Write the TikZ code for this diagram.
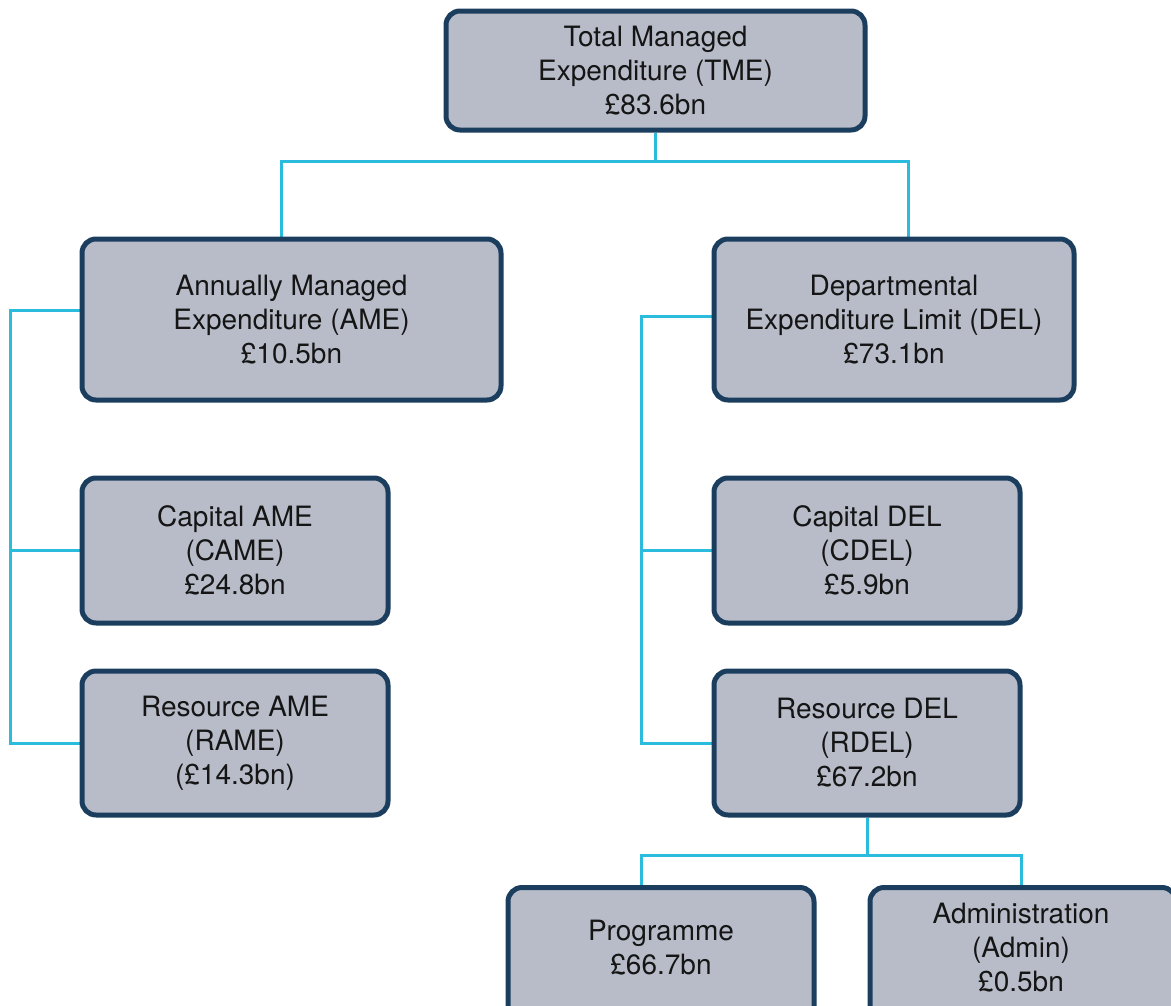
\documentclass[tikz,border=0pt]{standalone}
\usepackage{fontspec}
\setmainfont{TeX Gyre Heros}
\usetikzlibrary{backgrounds}
\definecolor{boxfill}{HTML}{B7BCC8}
\definecolor{boxline}{HTML}{1B3D5E}
\definecolor{connline}{HTML}{2BBCDD}
\definecolor{txt}{HTML}{151515}
\begin{document}
\begin{tikzpicture}[x=1pt,y=1pt,
  box/.style={draw=boxline, line width=5pt, fill=boxfill, rounded corners=14pt,
    align=center, text=txt, inner sep=0pt,
    font=\fontsize{28}{34}\selectfont},
  lbl/.style={align=center, text=txt, inner sep=0pt, font=\fontsize{28}{34}\selectfont},
  conn/.style={draw=connline, line width=3pt}]
\useasboundingbox (0,0) rectangle (1171,-1005);
\node[box, minimum width=419, minimum height=119] (tme) at (655.5,-70.5) {Total Managed\\Expenditure (TME)\\£83.6bn};
\node[box, minimum width=419, minimum height=161] (ame) at (291.5,-319.5) {Annually Managed\\Expenditure (AME)\\£10.5bn};
\node[box, minimum width=360, minimum height=161] (del) at (894,-319.5) {Departmental\\Expenditure Limit (DEL)\\£73.1bn};
\node[box, minimum width=306, minimum height=145] (came) at (235,-550.5) {Capital AME\\(CAME)\\£24.8bn};
\node[box, minimum width=306, minimum height=144] (rame) at (235,-743) {Resource AME\\(RAME)\\(£14.3bn)};
\node[box, minimum width=306, minimum height=145] (cdel) at (867,-550.5) {Capital DEL\\(CDEL)\\£5.9bn};
\node[box, minimum width=306, minimum height=144] (rdel) at (867,-743) {Resource DEL\\(RDEL)\\£67.2bn};
\node[box, minimum width=306, minimum height=150, anchor=north] (prog) at (661,-885) {};
\node[box, minimum width=306, minimum height=150, anchor=north] (adm) at (1023,-885) {};
\node[lbl] (progT) at (661,-948) {Programme\\£66.7bn};
\node[lbl] (admT) at (1021,-948) {Administration\\(Admin)\\£0.5bn};
\coordinate (tb) at (655.5,-161);
\coordinate (xa) at (281,0);
\coordinate (xd) at (908,0);
\coordinate (lb) at (10,0);
\coordinate (yl) at (0,-310);
\coordinate (rb) at (641,0);
\coordinate (yr) at (0,-316);
\coordinate (bb) at (0,-855);
\coordinate (xp) at (641,0);
\coordinate (xm) at (1021,0);
\begin{scope}[on background layer]
\draw[conn] (tme.south) -- (tb);
\draw[conn] (ame.north -| xa) |- (tb) -| (del.north -| xd);
\draw[conn] (ame.west |- yl) -| (lb |- rame.west) -- (rame.west);
\draw[conn] (lb |- came.west) -- (came.west);
\draw[conn] (del.west |- yr) -| (rb |- rdel.west) -- (rdel.west);
\draw[conn] (rb |- cdel.west) -- (cdel.west);
\draw[conn] (rdel.south) -- (rdel.south |- bb);
\draw[conn] (prog.north -| xp) |- (rdel.south |- bb) -| (adm.north -| xm);
\end{scope}
\end{tikzpicture}
\end{document}
